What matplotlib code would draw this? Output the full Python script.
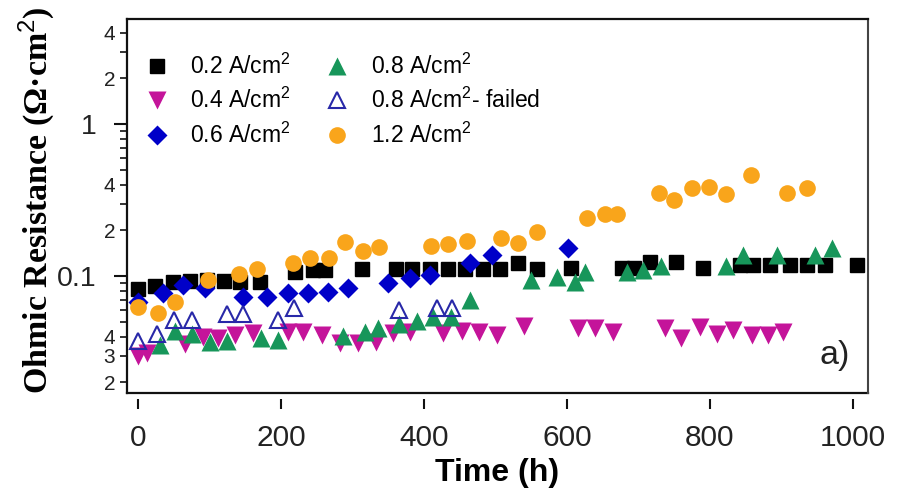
import matplotlib
matplotlib.use('Agg')
import matplotlib.pyplot as plt
from matplotlib.ticker import FixedLocator, FuncFormatter, NullFormatter
from matplotlib.lines import Line2D

plt.rcParams['font.family'] = ['Liberation Sans', 'DejaVu Sans']
plt.rcParams['mathtext.fontset'] = 'custom'
plt.rcParams['mathtext.rm'] = 'Liberation Sans'
plt.rcParams['mathtext.it'] = 'Liberation Sans:italic'
plt.rcParams['mathtext.bf'] = 'Liberation Sans:bold'

# ---------------- data ----------------
t_02 = [0, 24, 49, 73, 97, 120, 143, 171, 220, 245, 262, 313, 361, 383, 408, 434,
        457, 483, 506, 531, 558, 606, 677, 694, 716, 752, 790, 842, 860, 884, 912,
        935, 961, 1006]
r_02 = [0.082, 0.086, 0.091, 0.093, 0.094, 0.093, 0.091, 0.091, 0.106, 0.110, 0.110,
        0.111, 0.111, 0.111, 0.111, 0.111, 0.111, 0.111, 0.111, 0.122, 0.111, 0.113,
        0.113, 0.113, 0.124, 0.124, 0.113, 0.119, 0.119, 0.119, 0.119, 0.119, 0.119,
        0.119]

t_04 = [0, 13, 66, 91, 112, 136, 161, 210, 231, 257, 283, 308, 333, 357, 380, 427,
        453, 477, 502, 540, 615, 639, 664, 737, 759, 786, 810, 832, 859, 881, 902]
r_04 = [0.0298, 0.0311, 0.0357, 0.0397, 0.0391, 0.0409, 0.0422, 0.0428, 0.0428,
        0.0409, 0.0362, 0.0362, 0.0368, 0.0422, 0.0428, 0.0422, 0.0435, 0.0428,
        0.0409, 0.0469, 0.0455, 0.0455, 0.0428, 0.0455, 0.0391, 0.0462, 0.0416,
        0.0441, 0.0409, 0.0409, 0.0428]

t_06 = [0, 35, 63, 94, 147, 180, 210, 238, 266, 294, 350, 380, 408, 464, 495, 601]
r_06 = [0.0675, 0.0773, 0.0873, 0.0834, 0.0728, 0.0728, 0.0773, 0.0773, 0.0785,
        0.0834, 0.0899, 0.097, 0.1015, 0.122, 0.1375, 0.153]

t_08 = [31, 52, 75, 101, 124, 172, 196, 287, 317, 336, 365, 390, 413, 438, 464, 550,
        586, 611, 625, 684, 706, 731, 822, 846, 894, 947, 971]
r_08 = [0.0352, 0.0435, 0.0416, 0.0368, 0.0374, 0.0391, 0.0380, 0.0403, 0.0428,
        0.0455, 0.0483, 0.0506, 0.0537, 0.0537, 0.0695, 0.0941, 0.0985, 0.0913,
        0.106, 0.106, 0.110, 0.116, 0.116, 0.1375, 0.1375, 0.1375, 0.153]

t_08f = [0, 26, 50, 75, 124, 147, 196, 218, 365, 418, 439]
r_08f = [0.0374, 0.0416, 0.0513, 0.0513, 0.0562, 0.0562, 0.0513, 0.0616, 0.0598,
         0.0616, 0.0616]

t_12 = [0, 28, 52, 98, 141, 166, 217, 241, 267, 289, 315, 337, 410, 434, 460, 508,
        531, 558, 628, 653, 670, 729, 750, 775, 799, 822, 857, 908, 936]
r_12 = [0.0625, 0.0567, 0.0675, 0.0941, 0.103, 0.111, 0.122, 0.132, 0.131, 0.167,
        0.146, 0.155, 0.158, 0.162, 0.170, 0.178, 0.164, 0.195, 0.241, 0.256, 0.256,
        0.351, 0.316, 0.379, 0.385, 0.346, 0.462, 0.351, 0.379]

series_labels = ['0.2 A/cm$^2$', '0.4 A/cm$^2$', '0.6 A/cm$^2$',
                 '0.8 A/cm$^2$', '0.8 A/cm$^2$- failed', '1.2 A/cm$^2$']

x_ticks = [0, 200, 400, 600, 800, 1000]
y_major_ticks = [0.1, 1]
y_major_labels = ['0.1', '1']
y_minor_labeled = [0.02, 0.03, 0.04, 0.2, 0.4, 2, 4]
y_minor_labels = ['2', '3', '4', '2', '4', '2', '4']

# ---------------- figure ----------------
fig = plt.figure(figsize=(9.03, 4.96), dpi=100)
ax = fig.add_axes([127/903, 1-393/496, 741/903, 374/496])

ax.plot(t_02, r_02, ls='none', marker='s', ms=10.5, color='#000000', mec='#000000',
        label=series_labels[0])
ax.plot(t_04, r_04, ls='none', marker='v', ms=12.5, color='#C4149A', mec='none',
        label=series_labels[1])
ax.plot(t_06, r_06, ls='none', marker='D', ms=10.5, color='#0000C8', mec='none',
        label=series_labels[2])
ax.plot(t_08, r_08, ls='none', marker='^', ms=12.5, color='#17965A', mec='none',
        label=series_labels[3])
ax.plot(t_08f, r_08f, ls='none', marker='^', ms=11.5, mfc='none', mec='#2828A8',
        mew=1.5, label=series_labels[4])
ax.plot(t_12, r_12, ls='none', marker='o', ms=12, color='#F9A51B', mec='none',
        label=series_labels[5])

ax.set_yscale('log')
ax.set_xlim(-15.4, 1021)
ax.set_ylim(0.0170, 4.91)

# x axis: ticks detached from frame
ax.spines['bottom'].set_position(('outward', 4))
ax.spines['bottom'].set_visible(False)
ax.add_line(Line2D([0, 1], [0, 0], transform=ax.transAxes, color='#111111', lw=1.6,
                   clip_on=False))
for s in ['left', 'top']:
    ax.spines[s].set_linewidth(1.6)
    ax.spines[s].set_color('#111111')
ax.spines['right'].set_linewidth(1.5)
ax.spines['right'].set_color('#444444')

ax.xaxis.set_major_locator(FixedLocator(x_ticks))
ax.tick_params(axis='x', which='major', direction='out', length=7.5, width=1.5,
               pad=10.5, labelsize=21.5, colors='#111111', labelcolor='#222222')
ax.tick_params(axis='x', which='minor', bottom=False)

ax.yaxis.set_major_locator(FixedLocator(y_major_ticks))
ax.yaxis.set_major_formatter(FuncFormatter(
    lambda v, p: dict(zip(y_major_ticks, y_major_labels)).get(round(v, 6), '')))
minor_vals = [m * d for d in (0.01, 0.1, 1) for m in range(2, 10)]
ax.yaxis.set_minor_locator(FixedLocator(minor_vals))
lab_map = {round(v, 6): l for v, l in zip(y_minor_labeled, y_minor_labels)}
ax.yaxis.set_minor_formatter(FuncFormatter(lambda v, p: lab_map.get(round(v, 6), '')))
ax.tick_params(axis='y', which='major', direction='out', length=9.5, width=1.5,
               pad=12.5, labelsize=20.5, colors='#111111', labelcolor='#222222')
ax.tick_params(axis='y', which='minor', direction='out', length=5, width=1.2,
               pad=3.5, labelsize=15, colors='#111111', labelcolor='#222222')

ax.set_xlabel('Time (h)', fontsize=23, fontweight='bold')
ax.xaxis.set_label_coords(0.5, -0.175)
ax.set_ylabel('Ohmic Resistance (\u03a9\u00b7cm$^{2}$)', fontsize=24.5,
              fontweight='bold', family=['Liberation Serif', 'DejaVu Serif'])
ax.yaxis.set_label_coords(-0.094, 0.516)

ax.text(0.976, 0.10, 'a)', transform=ax.transAxes, fontsize=24.5, ha='right',
        va='center', color='#222222')

ax.legend(loc='upper left', bbox_to_anchor=(0.0, 0.95), ncol=2, frameon=False,
          fontsize=16.5, handlelength=1.2, handletextpad=0.85, columnspacing=1.45,
          labelspacing=0.4, borderaxespad=0.3, markerscale=1.0)

fig.savefig('out.png', dpi=100)
